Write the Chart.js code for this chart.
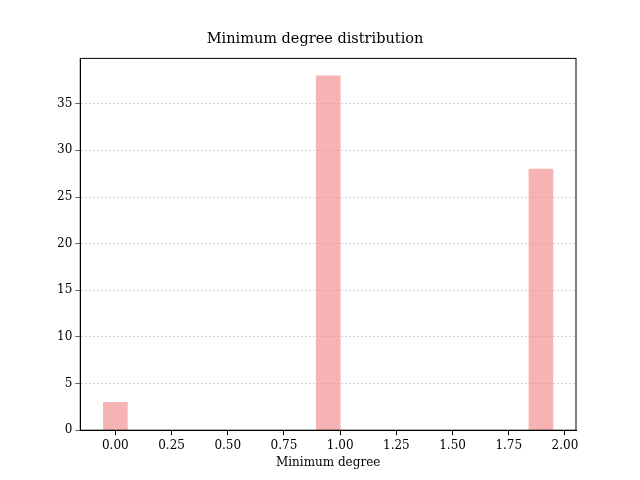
<!DOCTYPE html>
<html>
<head>
<script src="https://cdn.jsdelivr.net/npm/chart.js@4/dist/chart.umd.min.js"></script>
<style>body{margin:0;background:#fff}#wrap{width:640px;height:480px}</style>
</head>
<body>
<div id="wrap"><canvas id="c" width="640" height="480"></canvas></div>
<script>
const binCenters = [0.0, 0.947, 1.893];
const counts = [3, 38, 28];
const xTicks = [0, 0.25, 0.5, 0.75, 1, 1.25, 1.5, 1.75, 2];
const yTicks = [0, 5, 10, 15, 20, 25, 30, 35];

const font = { family: "DejaVu Serif", size: 12 };
Chart.defaults.font = font;
Chart.defaults.color = "#000";

new Chart(document.getElementById("c"), {
  type: "bar",
  data: {
    datasets: [{
      data: binCenters.map((x, i) => ({ x: x, y: counts[i] })),
      backgroundColor: "rgba(240,128,128,0.6)",
      barThickness: 24
    }]
  },
  options: {
    responsive: false,
    animation: false,
    layout: { padding: { left: 54, right: 64, top: 0, bottom: 10 } },
    plugins: {
      legend: { display: false },
      tooltip: { enabled: false },
      title: { display: true, text: "Minimum degree distribution", font: { family: "DejaVu Serif", size: 14.5, weight: "normal" }, padding: { top: 31, bottom: 10 } }
    },
    scales: {
      x: {
        type: "linear",
        offset: false,
        min: -0.156, max: 2.049,
        afterBuildTicks: s => { s.ticks = xTicks.map(v => ({ value: v })); },
        ticks: { callback: v => v.toFixed(2), font: font, maxRotation: 0 },
        grid: { display: true, drawOnChartArea: false, tickColor: "#000", tickLength: 5, offset: false },
        border: { color: "#000" },
        title: { display: true, text: "Minimum degree", font: font, padding: 0 }
      },
      y: {
        min: 0, max: 39.86,
        afterBuildTicks: s => { s.ticks = yTicks.map(v => ({ value: v })); },
        ticks: { font: font },
        grid: { color: "#bbb", lineWidth: 0.6, tickColor: "#000", tickLength: 5, tickBorderDash: [] },
        border: { color: "#000", dash: [2, 2] }
      }
    }
  },
  plugins: [{
    id: "frame",
    afterDraw(chart) {
      const a = chart.chartArea, ctx = chart.ctx;
      ctx.save();
      ctx.strokeStyle = "#000"; ctx.lineWidth = 1;
      ctx.strokeRect(a.left, a.top, a.right - a.left, a.bottom - a.top);
      ctx.restore();
    }
  }]
});
</script>
</body>
</html>
